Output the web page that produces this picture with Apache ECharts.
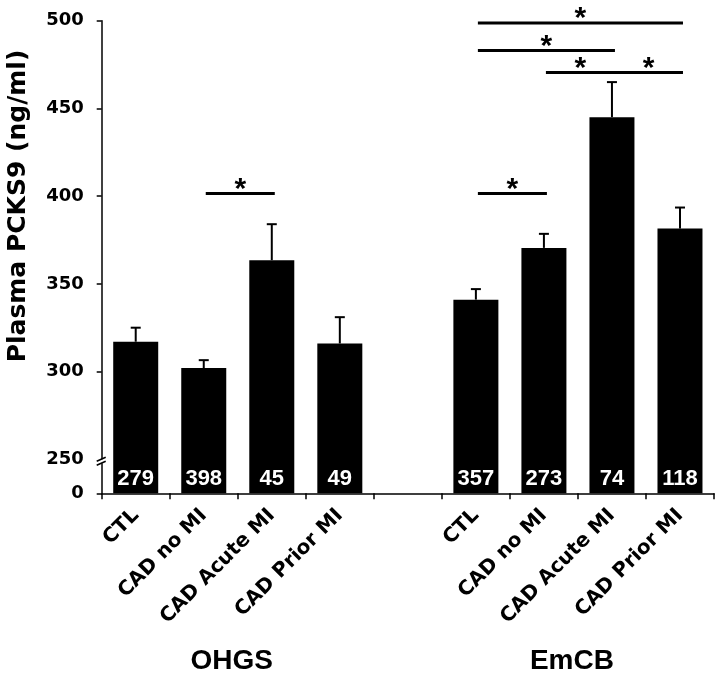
<!DOCTYPE html>
<html><head><meta charset="utf-8">
<script src="https://cdn.jsdelivr.net/npm/echarts@6/dist/echarts.min.js"></script>
<style>html,body{margin:0;padding:0;background:#fff}#c{width:722px;height:679px}</style>
</head><body><div id="c"></div>
<script>
// ---- data ----
const categories = ['CTL', 'CAD no MI', 'CAD Acute MI', 'CAD Prior MI', '', 'CTL', 'CAD no MI', 'CAD Acute MI', 'CAD Prior MI'];
const groupNames = ['OHGS', 'EmCB'];
const groupRanges = [[0, 3], [5, 8]];
const means = [317, 302, 363.5, 316, null, 341, 370.5, 445, 381.5];
const sems = [8, 4.5, 20.5, 15, null, 6, 8, 20, 12];
const nCounts = ['279', '398', '45', '49', '', '357', '273', '74', '118'];
// [from category, to category, y level]
const sigBrackets = [[1, 2, 401.5], [5, 6, 401.5], [6, 7, 470.5], [7, 8, 470.5], [5, 7, 483], [5, 8, 498.7]];
const yLabelValues = [230.6, 250, 300, 350, 400, 450, 500];
const yTickValues = [230.6, 300, 350, 400, 450, 500];
const yMin = 230.6, yMax = 500;
const yTitle = 'Plasma PCKS9 (ng/ml)';

const FONT = '"Liberation Sans", Arial, sans-serif';
const WIDE = '"DejaVu Sans", sans-serif';
const chart = echarts.init(document.getElementById('c'));

const barData = means.map(v => v == null ? '-' : v);
const errData = [];
means.forEach((m, i) => { if (m != null) errData.push([i, m, m + sems[i]]); });

chart.setOption({
  animation: false,
  grid: { left: 101.7, right: 8, top: 20.7, bottom: 185.7, containLabel: false },
  xAxis: {
    type: 'category', data: categories,
    axisLine: { lineStyle: { color: '#000', width: 1.5 } },
    axisTick: { show: true, length: 6, lineStyle: { color: '#000', width: 1.5 } },
    axisLabel: { interval: 0, rotate: 45, margin: 19, color: '#000', fontFamily: WIDE, fontWeight: 'bold', fontSize: 20 }
  },
  yAxis: {
    type: 'value', min: yMin, max: yMax,
    splitLine: { show: false },
    axisLine: { show: true, lineStyle: { color: '#000', width: 1.5 } },
    axisTick: { show: true, length: 5, customValues: yTickValues, lineStyle: { color: '#000', width: 1.5 } },
    axisLabel: {
      customValues: yLabelValues, margin: 18, color: '#000', fontFamily: WIDE, fontWeight: 'bold', fontSize: 18,
      formatter: v => (v < 240 ? '0' : String(Math.round(v)))
    }
  },
  series: [
    {
      type: 'bar', data: barData, barWidth: 45, itemStyle: { color: '#000' },
      label: {
        show: true, position: 'insideBottom', distance: 3, color: '#fff',
        fontFamily: FONT, fontWeight: 'bold', fontSize: 22,
        formatter: p => nCounts[p.dataIndex]
      }
    },
    {
      type: 'custom', data: errData, clip: false, z: 5,
      renderItem: (params, api) => {
        const p0 = api.coord([api.value(0), api.value(1)]);
        const p1 = api.coord([api.value(0), api.value(2)]);
        const st = { stroke: '#000', lineWidth: 2 };
        return { type: 'group', children: [
          { type: 'line', shape: { x1: p0[0], y1: p0[1], x2: p1[0], y2: p1[1] }, style: st },
          { type: 'line', shape: { x1: p1[0] - 5, y1: p1[1], x2: p1[0] + 5, y2: p1[1] }, style: st }
        ] };
      }
    },
    {
      type: 'custom', data: sigBrackets, clip: false, z: 6,
      renderItem: (params, api) => {
        const a = api.coord([api.value(0), api.value(2)]);
        const b = api.coord([api.value(1), api.value(2)]);
        const x1 = a[0] + 2, x2 = b[0] + 3;
        return { type: 'group', children: [
          { type: 'line', shape: { x1: x1, y1: a[1], x2: x2, y2: a[1] }, style: { stroke: '#000', lineWidth: 3 } },
          { type: 'text', style: { x: (x1 + x2) / 2, y: a[1] - 4, text: '*', align: 'center', verticalAlign: 'middle',
              font: 'bold 30px ' + FONT, fill: '#000' } }
        ] };
      }
    }
  ]
});

function decorate() {
  const xs = i => chart.convertToPixel({ xAxisIndex: 0 }, i);
  const ys = v => chart.convertToPixel({ yAxisIndex: 0 }, v);
  const ax = xs(0) - (xs(1) - xs(0)) / 2;
  const yb = ys(250) + 1;
  const graphics = [];
  groupRanges.forEach((r, gi) => {
    graphics.push({ type: 'text', x: (xs(r[0]) + xs(r[1])) / 2 - 6, y: 661, z: 10,
      style: { text: groupNames[gi], align: 'center', verticalAlign: 'middle', font: 'bold 28px ' + FONT, fill: '#000' } });
  });
  graphics.push({ type: 'text', x: 18, y: 206, rotation: Math.PI / 2, z: 10,
    style: { text: yTitle, align: 'center', verticalAlign: 'middle', font: 'bold 25px ' + WIDE, fill: '#000' } });
  // axis break marks
  graphics.push({ type: 'rect', z: 10, shape: { x: ax - 2, y: yb - 1, width: 4, height: 4 }, style: { fill: '#fff' } });
  graphics.push({ type: 'line', z: 11, shape: { x1: ax - 5, y1: yb + 1, x2: ax + 4, y2: yb - 3 }, style: { stroke: '#000', lineWidth: 1.5 } });
  graphics.push({ type: 'line', z: 11, shape: { x1: ax - 5, y1: yb + 5, x2: ax + 4, y2: yb + 1 }, style: { stroke: '#000', lineWidth: 1.5 } });
  chart.setOption({ graphic: graphics });
}
decorate();
</script></body></html>
